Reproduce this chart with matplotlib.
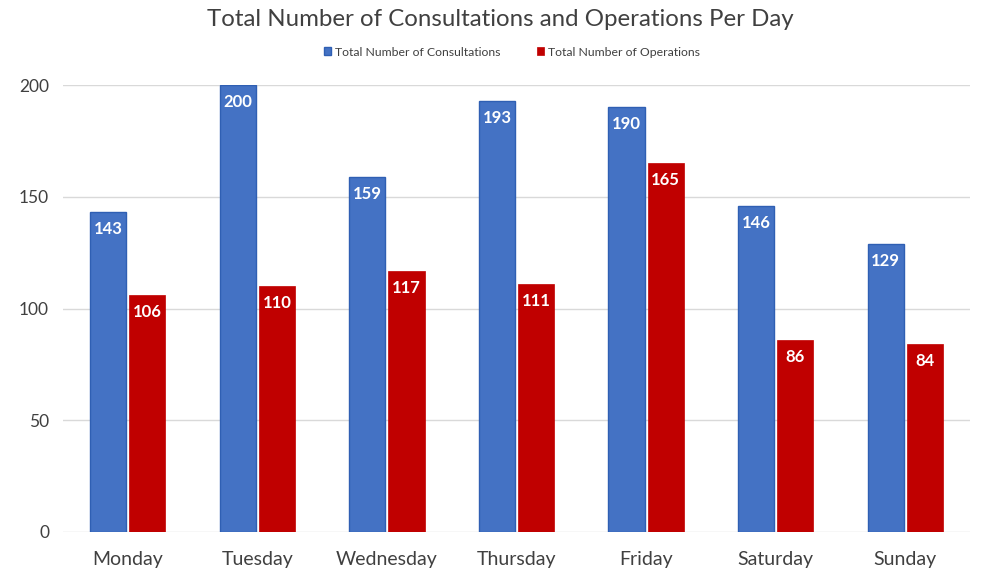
import matplotlib
matplotlib.use("Agg")
import matplotlib.pyplot as plt
import numpy as np

days = ["Monday", "Tuesday", "Wednesday", "Thursday", "Friday", "Saturday", "Sunday"]
consultations = [143, 200, 159, 193, 190, 146, 129]
operations = [106, 110, 117, 111, 165, 86, 84]
series_names = ["Total Number of Consultations", "Total Number of Operations"]
yticks = [0, 50, 100, 150, 200]

plt.rcParams['font.family'] = ['Lato', 'DejaVu Sans']

fig = plt.figure(figsize=(9.86, 5.74), dpi=100)
ax = fig.add_axes([63/986, 1-532/574, (970-63)/986, (532-85)/574])

x = np.arange(len(days))
w = 0.278
gap = 0.012
b1 = ax.bar(x - w/2 - gap, consultations, w, color="#4472C4", edgecolor="#2F5FB3", linewidth=1, label=series_names[0], zorder=3)
b2 = ax.bar(x + w/2 + gap, operations, w, color="#C00000", edgecolor="#C00000", linewidth=0.5, label=series_names[1], zorder=3)

for bars, vals in ((b1, consultations), (b2, operations)):
    for r, v in zip(bars, vals):
        ax.annotate(str(v), (r.get_x() + r.get_width()/2, v), xytext=(0, -17), textcoords="offset pixels",
                    ha="center", va="center", color="white", fontsize=12, fontweight="bold", zorder=4)

ax.set_xlim(-0.5, len(days) - 0.5)
ax.set_ylim(0, 200)
ax.set_yticks(yticks)
ax.set_xticks(x)
ax.set_xticklabels(days, fontsize=14, color="#404040")
ax.tick_params(axis="y", labelsize=12.5, labelcolor="#404040", length=0, pad=10)
ax.tick_params(axis="x", length=0, pad=14)
ax.grid(axis="y", color="#D9D9D9", linewidth=1, zorder=0)
for s in ax.spines.values():
    s.set_visible(False)

fig.suptitle("Total Number of Consultations and Operations Per Day", x=0.507, y=1-19/574, va="center",
             fontsize=17.3, color="#404040")
fig.legend(handles=[b1, b2], labels=series_names, loc="center", bbox_to_anchor=(0.519, 1-52/574),
           ncol=2, frameon=False, fontsize=8.8, handlelength=0.6, handleheight=0.6, columnspacing=3.0,
           handletextpad=0.3, labelcolor="#404040")

fig.savefig("out.png", dpi=100)
